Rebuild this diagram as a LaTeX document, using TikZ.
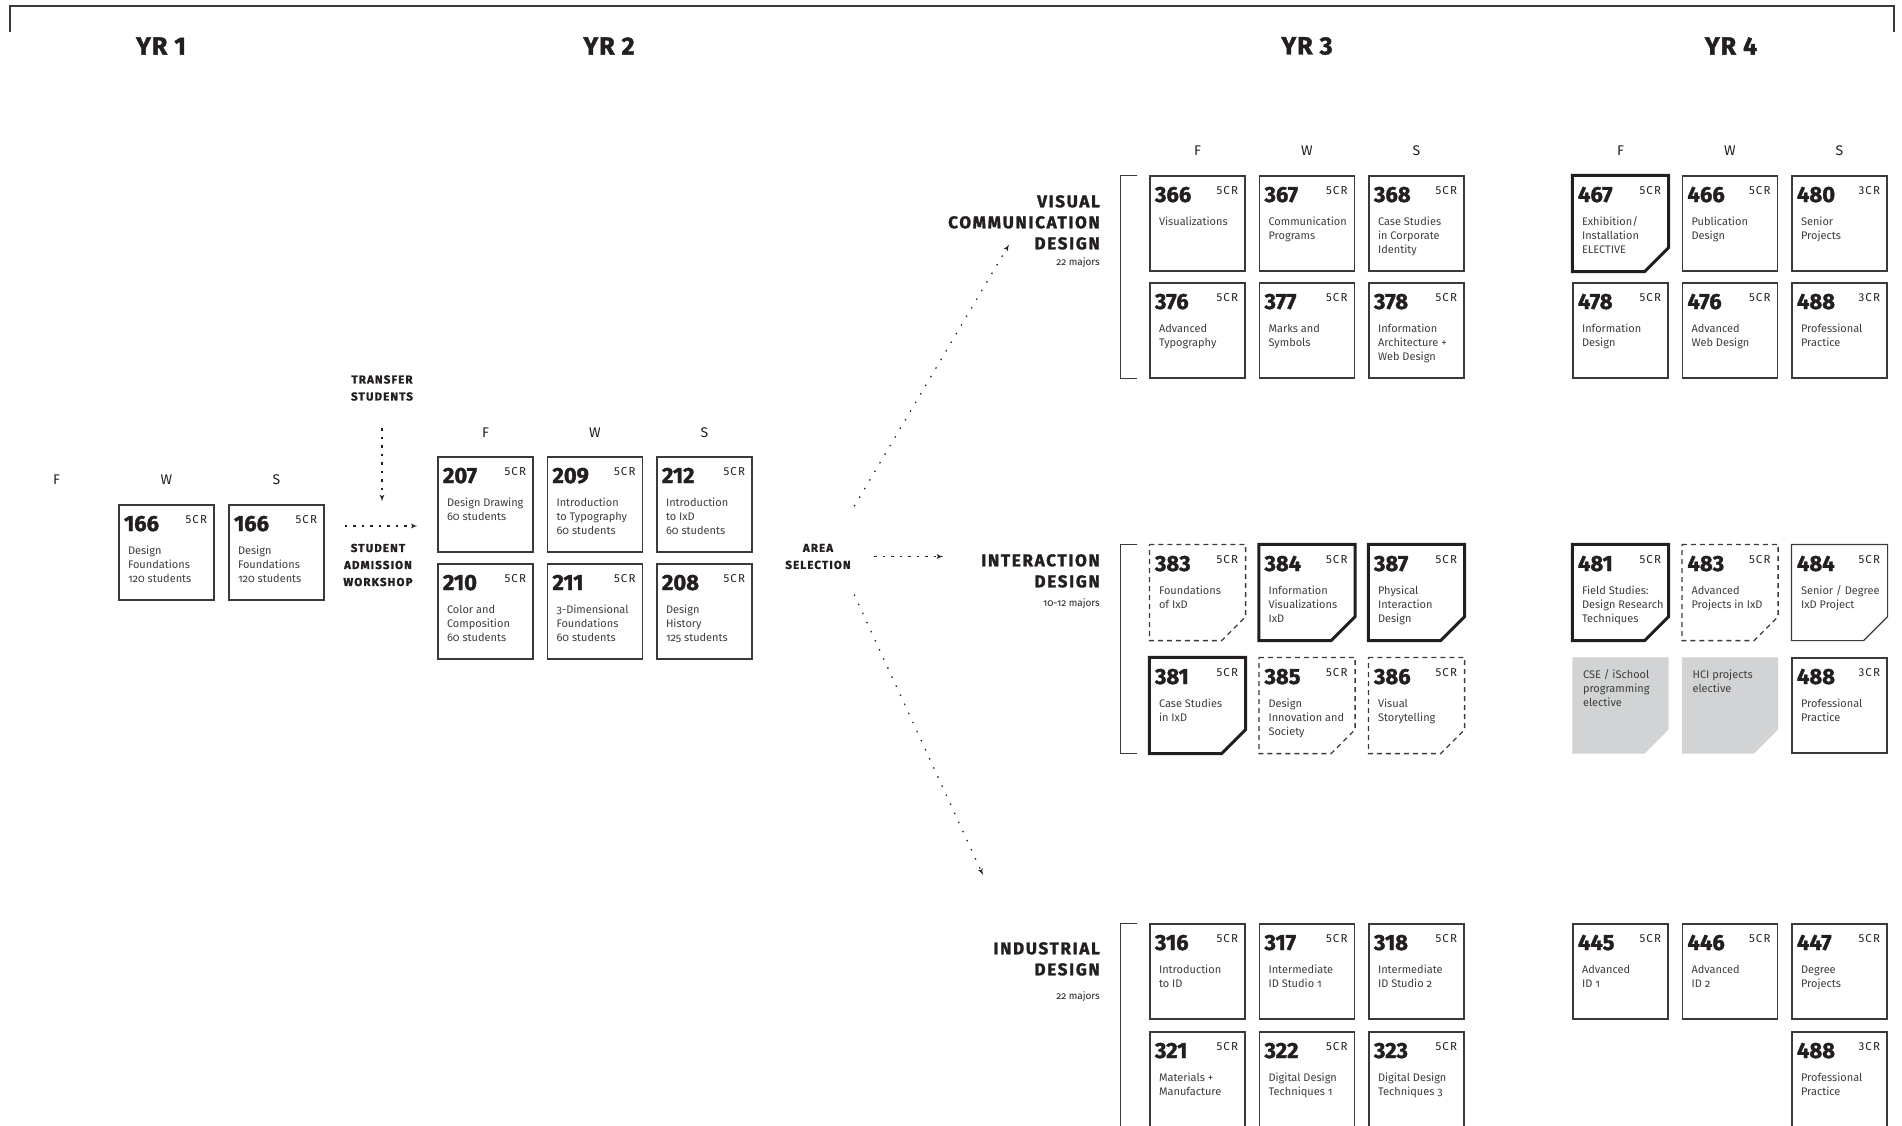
\documentclass[tikz,border=0pt]{standalone}
\usepackage{fontspec}
\setmainfont{Fira Sans}[Numbers=OldStyle]
\newfontfamily\numfam{Fira Sans}[Numbers=Lining,BoldFeatures={FakeBold=1.5}]
\newfontfamily\capfam{Fira Sans}[LetterSpace=10,Numbers=Lining,BoldFeatures={FakeBold=1.5}]
\newfontfamily\crfam{Fira Sans}[LetterSpace=10,Numbers=Lining]
\newfontfamily\yrfam{Fira Sans}[LetterSpace=4,Numbers=Lining,BoldFeatures={FakeBold=1.5}]
\usetikzlibrary{arrows,positioning,backgrounds}
\definecolor{ink}{HTML}{231F20}
\definecolor{edge}{HTML}{3A3A3A}
\definecolor{shade}{HTML}{D1D3D4}
\definecolor{body}{HTML}{3D3D3D}
\newcommand{\cnum}{\numfam\bfseries\fontsize{22}{22}\selectfont}
\newcommand{\ccr}{\crfam\fontsize{11.5}{11.5}\selectfont}
\newcommand{\cbodyfont}{\normalfont\fontsize{11}{14}\selectfont}
\newcommand{\crs}[3]{\vbox to 95pt{\offinterlineskip\hsize=95pt
  \kern26pt
  \hbox to 95pt{\hskip5pt\relax\smash{\cnum #1}\hfil\smash{\raisebox{8pt}{\ccr #2}}\hskip7pt\relax}
  \kern23pt
  \hbox to 95pt{\hskip9pt\relax\color{body}\rlap{\smash{\parbox[t]{200pt}{\cbodyfont #3}}}\hfil}
  \vfil}}
\newcommand{\crsnote}[1]{\vbox to 95pt{\offinterlineskip\hsize=95pt
  \kern20pt
  \hbox to 95pt{\hskip10pt\relax\color{body}\rlap{\smash{\parbox[t]{200pt}{\cbodyfont #1}}}\hfil}
  \vfil}}
\tikzstyle{course} = [rectangle, draw=edge, line width=1.2pt, minimum size=95pt, inner sep=0pt, text=ink]
\tikzstyle{bare} = [course, draw=none]
\tikzstyle{season} = [font=\numfam\fontsize{14}{14}\selectfont, text=ink]
\tikzstyle{year} = [font=\yrfam\bfseries\fontsize{25}{25}\selectfont, text=ink]
\tikzstyle{major} = [align=right, inner sep=0pt, anchor=north east, text=ink,
      font=\capfam\bfseries\fontsize{17}{21}\selectfont]
\tikzstyle{stage} = [align=center, text=ink, font=\capfam\bfseries\fontsize{11.5}{17}\selectfont]
\tikzstyle{flow} = [draw=ink, -latex', line width=1.2pt, dash pattern=on 2.5pt off 6pt]
\tikzstyle{branch} = [flow, dash pattern=on 1.5pt off 8.5pt]
\tikzstyle{bracket} = [draw=edge, line width=1.1pt]
\tikzstyle{heavy} = [draw=ink, line width=3pt]
\tikzstyle{elective} = [draw=edge, line width=1.3pt, dash pattern=on 5pt off 4pt]
\tikzstyle{plain} = [draw=edge, line width=1.2pt]
\tikzstyle{grayed} = [fill=shade]
\tikzset{cutframe/.style={insert path={(#1.north west) -- (#1.north east) -- ([yshift=24pt]#1.south east)
      -- ([xshift=-24pt]#1.south east) -- (#1.south west) -- cycle}}}

\begin{document}
\begin{tikzpicture}[x=1pt, y=1pt, node distance=109.5pt]
	  \useasboundingbox (0,0) rectangle (1902,-1126);
	  \clip (0,0) rectangle (1902,-1126);
	  \draw [bracket] (10,-32) -- (10,-6) -- (1894,-6) -- (1894,-32);
	  % Years
	  \node [year] (yr1) at (161,-46) {YR 1};
	  \node [year] (yr2) at (609,-46) {YR 2};
	  \node [year] (yr3) at (1307,-46) {YR 3};
	  \node [year] (yr4) at (1731,-46) {YR 4};
	  %Year 1
	  \node [course] (c166a) at (166.5,-552.5) {\crs{166}{5CR}{Design\\Foundations\\120 students}};
	  \node [course, right of=c166a, node distance=110pt] (c166b) {\crs{166}{5CR}{Design\\Foundations\\120 students}};
	  \node [season, above of=c166a, node distance=72.5pt] (s1w) {W};
	  \node [season, above of=c166b, node distance=72.5pt] (s1s) {S};
	  \node [season, left of=s1w, node distance=110pt] (s1f) {F};
	  \node [stage] (transfer) at (382,-388) {TRANSFER\\STUDENTS};
	  \node [stage] (workshop) at (378,-565) {STUDENT\\ADMISSION\\WORKSHOP};
	  %Year 2
	  \node [course] (c207) at (485.5,-504.5) {\crs{207}{5CR}{Design Drawing\\60 students}};
	  \node [course, right of=c207] (c209) {\crs{209}{5CR}{Introduction\\to Typography\\60 students}};
	  \node [course, right of=c209] (c212) {\crs{212}{5CR}{Introduction\\to IxD\\60 students}};
	  \node [course, below of=c207, node distance=107pt] (c210) {\crs{210}{5CR}{Color and\\Composition\\60 students}};
	  \node [course, below of=c209, node distance=107pt] (c211) {\crs{211}{5CR}{3-Dimensional\\Foundations\\60 students}};
	  \node [course, below of=c212, node distance=107pt] (c208) {\crs{208}{5CR}{Design\\History\\125 students}};
	  \node [season, above of=c207, node distance=71.5pt] (s2f) {F};
	  \node [season, above of=c209, node distance=71.5pt] (s2w) {W};
	  \node [season, above of=c212, node distance=71.5pt] (s2s) {S};
	  \node [stage] (area) at (818,-556.5) {AREA\\SELECTION};
	  %Majors
	  \node [major] (vcd) at (1100,-195) {VISUAL\\COMMUNICATION\\DESIGN\\[-5pt]{\normalfont\fontsize{10}{12}\selectfont 22 majors}};
	  \node [major] (ixd) at (1100,-554) {INTERACTION\\DESIGN\\[-2pt]{\normalfont\fontsize{10}{12}\selectfont 10-12 majors}};
	  \node [major] (id) at (1100,-942) {INDUSTRIAL\\DESIGN\\[3pt]{\normalfont\fontsize{10}{12}\selectfont 22 majors}};
	  %Year 3
	  \node [course] (c366) at (1197.5,-223.5) {\crs{366}{5CR}{Visualizations}};
	  \node [course, right of=c366] (c367) {\crs{367}{5CR}{Communication\\Programs}};
	  \node [course, right of=c367] (c368) {\crs{368}{5CR}{Case Studies\\in Corporate\\Identity}};
	  \node [course, below of=c366, node distance=107pt] (c376) {\crs{376}{5CR}{Advanced\\Typography}};
	  \node [course, right of=c376] (c377) {\crs{377}{5CR}{Marks and\\Symbols}};
	  \node [course, right of=c377] (c378) {\crs{378}{5CR}{Information\\Architecture +\\Web Design}};
	  \node [bare] (c383) at (1197.5,-592.5) {\crs{383}{5CR}{Foundations\\of IxD}};
	  \node [bare, right of=c383] (c384) {\crs{384}{5CR}{Information\\Visualizations\\IxD}};
	  \node [bare, right of=c384] (c387) {\crs{387}{5CR}{Physical\\Interaction\\Design}};
	  \node [bare, below of=c383, node distance=113pt] (c381) {\crs{381}{5CR}{Case Studies\\in IxD}};
	  \node [bare, right of=c381] (c385) {\crs{385}{5CR}{Design\\Innovation and\\Society}};
	  \node [bare, right of=c385] (c386) {\crs{386}{5CR}{Visual\\Storytelling}};
	  \node [course] (c316) at (1197.5,-971.5) {\crs{316}{5CR}{Introduction\\to ID}};
	  \node [course, right of=c316] (c317) {\crs{317}{5CR}{Intermediate\\ID Studio 1}};
	  \node [course, right of=c317] (c318) {\crs{318}{5CR}{Intermediate\\ID Studio 2}};
	  \node [course, below of=c316, node distance=108pt] (c321) {\crs{321}{5CR}{Materials +\\Manufacture}};
	  \node [course, right of=c321] (c322) {\crs{322}{5CR}{Digital Design\\Techniques 1}};
	  \node [course, right of=c322] (c323) {\crs{323}{5CR}{Digital Design\\Techniques 3}};
	  \node [season, above of=c366, node distance=72.5pt] (s3f) {F};
	  \node [season, above of=c367, node distance=72.5pt] (s3w) {W};
	  \node [season, above of=c368, node distance=72.5pt] (s3s) {S};
	  %Year 4
	  \node [bare] (c467) at (1620.5,-223.5) {\crs{467}{5CR}{Exhibition/\\Installation\\ELECTIVE}};
	  \node [course, right of=c467] (c466) {\crs{466}{5CR}{Publication\\Design}};
	  \node [course, right of=c466] (c480) {\crs{480}{3CR}{Senior\\Projects}};
	  \node [course, below of=c467, node distance=107pt] (c478) {\crs{478}{5CR}{Information\\Design}};
	  \node [course, right of=c478] (c476) {\crs{476}{5CR}{Advanced\\Web Design}};
	  \node [course, right of=c476] (c488a) {\crs{488}{3CR}{Professional\\Practice}};
	  \node [bare] (c481) at (1620.5,-592.5) {\crs{481}{5CR}{Field Studies:\\Design Research\\Techniques}};
	  \node [bare, right of=c481] (c483) {\crs{483}{5CR}{Advanced\\Projects in IxD}};
	  \node [bare, right of=c483] (c484) {\crs{484}{5CR}{Senior / Degree\\IxD Project}};
	  \node [bare, below of=c481, node distance=113pt] (g1) {\crsnote{CSE / iSchool\\programming\\elective}};
	  \node [bare, right of=g1] (g2) {\crsnote{HCI projects\\elective}};
	  \node [course, right of=g2] (c488b) {\crs{488}{3CR}{Professional\\Practice}};
	  \node [course] (c445) at (1620.5,-971.5) {\crs{445}{5CR}{Advanced\\ID 1}};
	  \node [course, right of=c445] (c446) {\crs{446}{5CR}{Advanced\\ID 2}};
	  \node [course, right of=c446] (c447) {\crs{447}{5CR}{Degree\\Projects}};
	  \node [course, below of=c447, node distance=108pt] (c488c) {\crs{488}{3CR}{Professional\\Practice}};
	  \node [season, above of=c467, node distance=72.5pt] (s4f) {F};
	  \node [season, above of=c466, node distance=72.5pt] (s4w) {W};
	  \node [season, above of=c480, node distance=72.5pt] (s4s) {S};
	  %Cut corners
	  \foreach \n in {c467,c384,c387,c381,c481} \path [heavy, cutframe=\n];
	  \foreach \n in {c383,c385,c386,c483} \path [elective, cutframe=\n];
	  \path [plain, cutframe=c484];
	  \begin{scope}[on background layer]
	  \foreach \n in {g1,g2} \path [grayed, cutframe=\n];
	  \end{scope}
	  %Brackets
	  \draw [bracket] ([xshift=-12pt]c366.north west) -- ([xshift=-29pt]c366.north west) -- ([xshift=-29pt]c376.south west) -- ([xshift=-12pt]c376.south west);
	  \draw [bracket] ([xshift=-12pt]c383.north west) -- ([xshift=-29pt]c383.north west) -- ([xshift=-29pt]c381.south west) -- ([xshift=-12pt]c381.south west);
	  \draw [bracket] ([xshift=-12pt]c316.north west) -- ([xshift=-29pt]c316.north west) -- ([xshift=-29pt]c321.south west) -- ([xshift=-12pt]c321.south west);
	  %Flow
	  \path [flow, shorten <=24pt, shorten >=39pt] (transfer.south) -- (transfer.south |- workshop.north);
	  \path [flow, shorten <=20pt, shorten >=20pt] ([yshift=26.5pt]c166b.east) -- ([yshift=-21.5pt]c207.west);
	  \path [flow, shorten <=20pt, shorten >=38pt] (area.east) -- (area.east -| ixd.west);
	  \path [branch] ([yshift=34pt]area.north east) -- ([xshift=-91pt,yshift=23pt]vcd.south east);
	  \path [branch] ([yshift=-22pt]area.south east) -- ([xshift=-117pt,yshift=67pt]id.north east);
\end{tikzpicture}
\end{document}
